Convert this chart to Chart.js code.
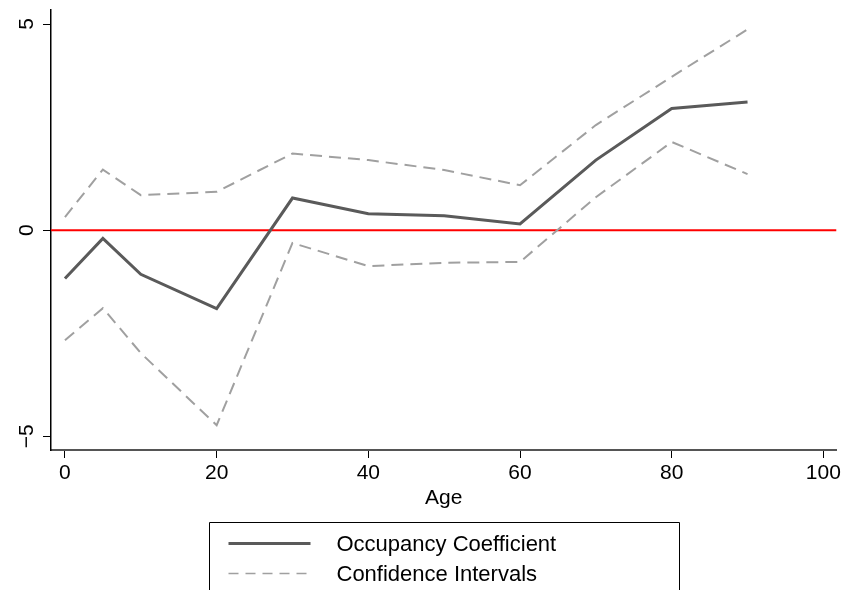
<!DOCTYPE html>
<html><head><meta charset="utf-8">
<script src="https://cdn.jsdelivr.net/npm/chart.js@4/dist/chart.umd.min.js"></script>
<style>html,body{margin:0;padding:0;background:#fff;} canvas{display:block;}</style>
</head><body>
<canvas id="c" width="844" height="590"></canvas>
<script>
const ages = [0, 5, 10, 20, 30, 40, 50, 60, 70, 80, 90];
const coefficient = [-1.17, -0.20, -1.07, -1.90, 0.78, 0.40, 0.35, 0.15, 1.70, 2.95, 3.11];
const upperCI = [0.32, 1.47, 0.85, 0.93, 1.86, 1.70, 1.46, 1.09, 2.55, 3.72, 4.87];
const lowerCI = [-2.67, -1.89, -2.98, -4.73, -0.31, -0.87, -0.79, -0.77, 0.80, 2.14, 1.36];
const xTicks = [0, 20, 40, 60, 80, 100];
const yTicks = [-5, 0, 5];
const seriesNames = ['Occupancy Coefficient', 'Confidence Intervals'];
const xTitle = 'Age';
const refLineValue = 0;

const FONT = '"Liberation Sans", Arial, Helvetica, sans-serif';
const MAIN_COLOR = '#5a5a5a';
const CI_COLOR = '#a0a0a0';
const CI_DASH = [12, 7];

const pts = (ys) => ages.map((a, i) => ({ x: a, y: ys[i] }));

const refLine = {
  id: 'refLine',
  beforeDatasetsDraw(chart) {
    const { ctx, chartArea, scales } = chart;
    const y = scales.y.getPixelForValue(refLineValue);
    ctx.save();
    ctx.strokeStyle = '#ff0000';
    ctx.lineWidth = 2;
    ctx.beginPath();
    ctx.moveTo(chartArea.left, y);
    ctx.lineTo(chartArea.right, y);
    ctx.stroke();
    ctx.restore();
  }
};

const extras = {
  id: 'extras',
  afterDraw(chart) {
    const { ctx, chartArea, scales } = chart;
    ctx.save();
    ctx.fillStyle = '#000';
    ctx.font = '21px ' + FONT;
    // rotated y tick labels
    ctx.textAlign = 'center';
    ctx.textBaseline = 'alphabetic';
    yTicks.forEach(v => {
      const y = scales.y.getPixelForValue(v);
      ctx.save();
      ctx.translate(chartArea.left - 18, y);
      ctx.rotate(-Math.PI / 2);
      ctx.fillText(v < 0 ? '\u2212' + Math.abs(v) : String(v), 0, 0);
      ctx.restore();
    });
    // x title
    const cx = (chartArea.left + chartArea.right) / 2;
    ctx.textAlign = 'center';
    ctx.fillText(xTitle, cx, chartArea.bottom + 54);
    // legend box
    const bw = 470, bx = Math.round(cx - bw / 2) + 0.5, by = chartArea.bottom + 72 + 0.5;
    ctx.strokeStyle = '#000';
    ctx.lineWidth = 1;
    ctx.beginPath();
    ctx.moveTo(bx, chart.height + 5);
    ctx.lineTo(bx, by);
    ctx.lineTo(bx + bw, by);
    ctx.lineTo(bx + bw, chart.height + 5);
    ctx.stroke();
    ctx.font = '22px ' + FONT;
    const rows = [
      { y: by + 21, color: MAIN_COLOR, w: 3, dash: [] },
      { y: by + 51, color: CI_COLOR, w: 1.5, dash: [10, 7] }
    ];
    rows.forEach((r, i) => {
      ctx.save();
      ctx.strokeStyle = r.color;
      ctx.lineWidth = r.w;
      ctx.setLineDash(r.dash);
      ctx.beginPath();
      ctx.moveTo(bx + 19, r.y);
      ctx.lineTo(bx + 101, r.y);
      ctx.stroke();
      ctx.restore();
      ctx.textAlign = 'left';
      ctx.textBaseline = 'middle';
      ctx.fillStyle = '#000';
      ctx.fillText(seriesNames[i], bx + 127, r.y + 1);
    });
    ctx.restore();
  }
};

new Chart(document.getElementById('c'), {
  type: 'line',
  data: {
    datasets: [
      { label: seriesNames[0], data: pts(coefficient), borderColor: MAIN_COLOR, borderWidth: 3, pointRadius: 0, tension: 0, fill: false },
      { label: seriesNames[1], data: pts(upperCI), borderColor: CI_COLOR, borderWidth: 2, borderDash: CI_DASH, pointRadius: 0, tension: 0, fill: false },
      { label: seriesNames[1] + ' (lower)', data: pts(lowerCI), borderColor: CI_COLOR, borderWidth: 2, borderDash: CI_DASH, pointRadius: 0, tension: 0, fill: false }
    ]
  },
  options: {
    responsive: false,
    animation: false,
    devicePixelRatio: 1,
    layout: { padding: { left: 0, top: 10, right: 6, bottom: 0 } },
    plugins: { legend: { display: false }, tooltip: { enabled: false } },
    scales: {
      x: {
        type: 'linear',
        min: -1.84, max: 101.7,
        afterBuildTicks: s => { s.ticks = xTicks.map(v => ({ value: v })); },
        afterFit: s => { s.height = 140; },
        grid: { drawOnChartArea: false, drawTicks: true, tickLength: 8, color: '#000', lineWidth: 1 },
        border: { display: true, color: '#555', width: 2 },
        ticks: { color: '#000', font: { family: FONT, size: 21 }, padding: 3, maxRotation: 0, autoSkip: false }
      },
      y: {
        type: 'linear',
        min: -5.33, max: 5.34,
        afterBuildTicks: s => { s.ticks = yTicks.map(v => ({ value: v })); },
        afterFit: s => { s.width = 51; },
        grid: { drawOnChartArea: false, drawTicks: true, tickLength: 8, color: '#000', lineWidth: 1 },
        border: { display: true, color: '#000', width: 1.5 },
        ticks: { display: false }
      }
    }
  },
  plugins: [refLine, extras]
});
</script>
</body></html>
